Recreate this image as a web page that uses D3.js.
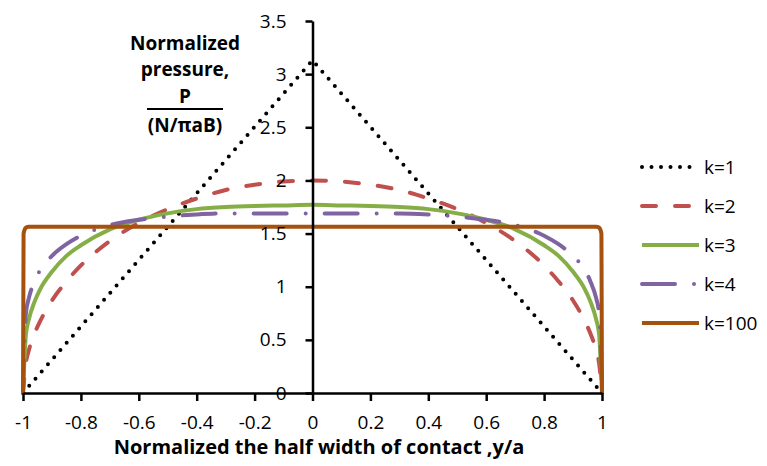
<!DOCTYPE html>
<html>
<head>
<meta charset="utf-8">
<script src="https://cdn.jsdelivr.net/npm/d3@7"></script>
<style>
  body { margin: 0; background: #fff; }
  text { font-family: "Open Sans", "DejaVu Sans", sans-serif; fill: #000; }
</style>
</head>
<body>
<svg id="chart"></svg>
<script>
// chart size
const width = 767;
const height = 466;

// shared x positions (y/a) for k=2,3,4
const xs = [-1, -0.99, -0.98, -0.96, -0.94, -0.9, -0.85, -0.8, -0.7, -0.6, -0.5, -0.4, -0.3, -0.2, -0.1, 0,
            0.1, 0.2, 0.3, 0.4, 0.5, 0.6, 0.7, 0.8, 0.85, 0.9, 0.94, 0.96, 0.98, 0.99, 1];

// k=1 (triangle)
const xsK1 = [-1, 0, 1];
const k1 = [0, 3.13, 0];

const k2 = [0, 0.28, 0.4, 0.56, 0.68, 0.87, 1.05, 1.2, 1.43, 1.6, 1.73, 1.83, 1.91, 1.96, 1.99, 2.0,
            1.99, 1.96, 1.91, 1.83, 1.73, 1.6, 1.43, 1.2, 1.05, 0.87, 0.68, 0.56, 0.4, 0.28, 0];

const k3 = [0, 0.55, 0.69, 0.86, 0.98, 1.14, 1.29, 1.39, 1.54, 1.63, 1.69, 1.73, 1.75, 1.76, 1.765, 1.77,
            1.765, 1.76, 1.75, 1.73, 1.69, 1.63, 1.54, 1.39, 1.29, 1.14, 0.98, 0.86, 0.69, 0.55, 0];

const k4 = [0, 0.75, 0.89, 1.05, 1.16, 1.29, 1.4, 1.48, 1.58, 1.63, 1.66, 1.68, 1.69, 1.69, 1.69, 1.69,
            1.69, 1.69, 1.69, 1.68, 1.66, 1.63, 1.58, 1.48, 1.4, 1.29, 1.16, 1.05, 0.89, 0.75, 0];

// k=100 (nearly flat)
const xsK100 = [-1, -0.998, -0.99, -0.98, 0.98, 0.99, 0.998, 1];
const k100 = [0, 1.5, 1.555, 1.565, 1.565, 1.555, 1.5, 0];

const xTicks = [-1, -0.8, -0.6, -0.4, -0.2, 0, 0.2, 0.4, 0.6, 0.8, 1];
const yTicks = [0, 0.5, 1, 1.5, 2, 2.5, 3, 3.5];

const seriesNames = ["k=1", "k=2", "k=3", "k=4", "k=100"];

const series = [
    { name: seriesNames[0], xs: xsK1, ys: k1, color: "#000000", dash: "0,9.5", linear: true },
    { name: seriesNames[1], xs: xs, ys: k2, color: "#C0504D", dash: "14,19" },
    { name: seriesNames[2], xs: xs, ys: k3, color: "#86AE47", dash: null },
    { name: seriesNames[3], xs: xs, ys: k4, color: "#8064A2", dash: "33,19,0,19" },
    { name: seriesNames[4], xs: xsK100, ys: k100, color: "#A5520F", dash: null }
];

const svg = d3.select("#chart").attr("width", width).attr("height", height);

const x = d3.scaleLinear().domain([-1, 1]).range([23, 602]);
const y = d3.scaleLinear().domain([0, 3.5]).range([393, 21]);

// lines
const line = d3.line().x(d => x(d[0])).y(d => y(d[1]));

series.forEach(s => {
    const pts = s.xs.map((v, i) => [v, s.ys[i]]);
    svg.append("path")
        .datum(pts)
        .attr("fill", "none")
        .attr("stroke", s.color)
        .attr("stroke-width", 4)
        .attr("stroke-linecap", s.dash ? "round" : "butt")
        .attr("stroke-linejoin", "round")
        .attr("stroke-dasharray", s.dash)
        .attr("d", line.curve(s.linear ? d3.curveLinear : d3.curveMonotoneX));
});

// plain hyphen for negatives, like the original
const fmt = d => String(d);

// x axis
const xAxis = svg.append("g")
    .attr("transform", "translate(0," + y(0) + ")")
    .call(d3.axisBottom(x).tickValues(xTicks).tickFormat(fmt).tickSize(8).tickSizeOuter(0).tickPadding(15));

// y axis crossing at x=0
const yAxis = svg.append("g")
    .attr("transform", "translate(" + x(0) + ",0)")
    .call(d3.axisLeft(y).tickValues(yTicks).tickFormat(fmt).tickSize(7).tickSizeOuter(0).tickPadding(19));

[xAxis, yAxis].forEach(g => {
    g.select(".domain").attr("stroke", "#000").attr("stroke-width", 2.5);
    g.selectAll(".tick line").attr("stroke", "#000").attr("stroke-width", 2.5);
    g.selectAll(".tick text").attr("font-size", 19).attr("font-family", "'Open Sans', sans-serif").attr("fill", "#222");
});

// x axis title
svg.append("text")
    .attr("x", 319)
    .attr("y", 454)
    .attr("text-anchor", "middle")
    .attr("font-size", 20)
    .attr("font-weight", "bold")
    .text("Normalized the half width of contact ,y/a");

// y axis title
const yTitle = svg.append("g").attr("font-weight", "bold").attr("font-size", 19).attr("text-anchor", "middle");
yTitle.append("text").attr("x", 185).attr("y", 50).text("Normalized");
yTitle.append("text").attr("x", 185).attr("y", 76).text("pressure,");
yTitle.append("text").attr("x", 185).attr("y", 103).text("P");
yTitle.append("line")
    .attr("x1", 147).attr("x2", 223).attr("y1", 109).attr("y2", 109)
    .attr("stroke", "#000").attr("stroke-width", 2);
yTitle.append("text").attr("x", 185).attr("y", 132).text("(N/\u03C0aB)");

// legend
const legend = svg.append("g")
    .selectAll("g")
    .data(series)
    .enter().append("g")
    .attr("transform", (d, i) => "translate(642," + (167 + i * 39) + ")");

legend.append("line")
    .attr("x1", 0).attr("x2", 57)
    .attr("stroke", d => d.color)
    .attr("stroke-width", 4)
    .attr("stroke-linecap", d => d.dash ? "round" : "butt")
    .attr("stroke-dasharray", d => d.dash);

legend.append("text")
    .attr("x", 62)
    .attr("y", 7)
    .attr("font-size", 19)
    .attr("fill", "#222")
    .text(d => d.name);
</script>
</body>
</html>
